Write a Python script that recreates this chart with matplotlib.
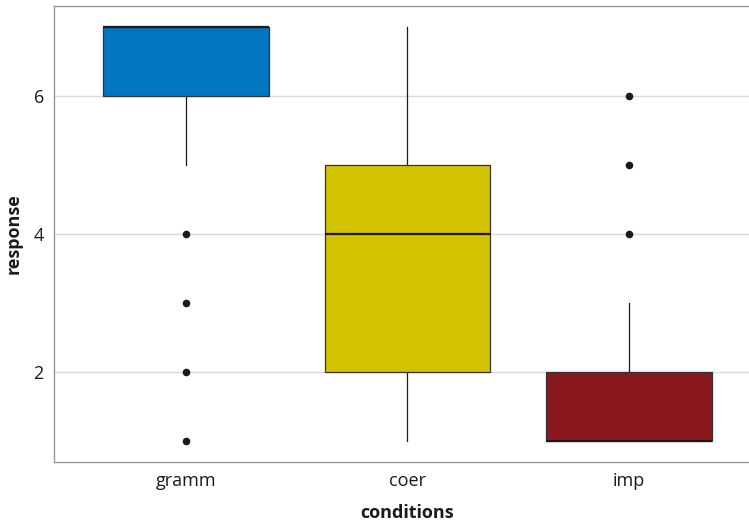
import matplotlib
matplotlib.use("Agg")
import matplotlib.pyplot as plt
from matplotlib.patches import Rectangle

categories = ["gramm", "coer", "imp"]
q1 = [6, 2, 1]
median = [7, 4, 1]
q3 = [7, 5, 2]
whisker_low = [5, 1, 1]
whisker_high = [7, 7, 3]
outliers = [[4, 3, 2, 1], [], [4, 5, 6]]
colors = ["#0077C0", "#D3C200", "#8A191F"]
yticks = [2, 4, 6]

plt.rcParams['font.family'] = ['Open Sans', 'DejaVu Sans']
fig = plt.figure(figsize=(7.49, 5.23), dpi=100)
ax = fig.add_axes([0.0715, 0.1166, 0.945, 0.872])

width = 0.75
for i, cat in enumerate(categories):
    x = i + 1
    ax.plot([x, x], [q3[i], whisker_high[i]], color="#1a1a1a", lw=0.9, zorder=2)
    ax.plot([x, x], [whisker_low[i], q1[i]], color="#1a1a1a", lw=0.9, zorder=2)
    ax.add_patch(Rectangle((x - width / 2, q1[i]), width, q3[i] - q1[i],
                           facecolor=colors[i], edgecolor="#333333", lw=0.9, zorder=3))
    ax.plot([x - width / 2, x + width / 2], [median[i], median[i]],
            color="#1a1a1a", lw=1.6, zorder=4, solid_capstyle="butt")
    if outliers[i]:
        ax.scatter([x] * len(outliers[i]), outliers[i], s=30, color="#1a1a1a", zorder=5, linewidths=0)

ax.set_xlim(0.4, 3.6)
ax.set_ylim(0.7, 7.3)
ax.set_xticks([1, 2, 3])
ax.set_xticklabels(categories)
ax.set_yticks(yticks)
ax.set_yticklabels([str(t) for t in yticks])
ax.yaxis.grid(True, color="#d9d9d9", lw=1.0, zorder=0)
ax.set_axisbelow(True)
ax.tick_params(length=0, labelsize=13, colors="#1a1a1a", pad=7)
for s in ax.spines.values():
    s.set_color("#999999")
    s.set_linewidth(1.0)
ax.spines["right"].set_visible(False)
ax.set_xlabel("conditions", fontsize=13, fontweight="bold", color="#1a1a1a", labelpad=10)
ax.set_ylabel("response", fontsize=13, fontweight="bold", color="#1a1a1a", labelpad=8)

fig.savefig("out.png", dpi=100)
